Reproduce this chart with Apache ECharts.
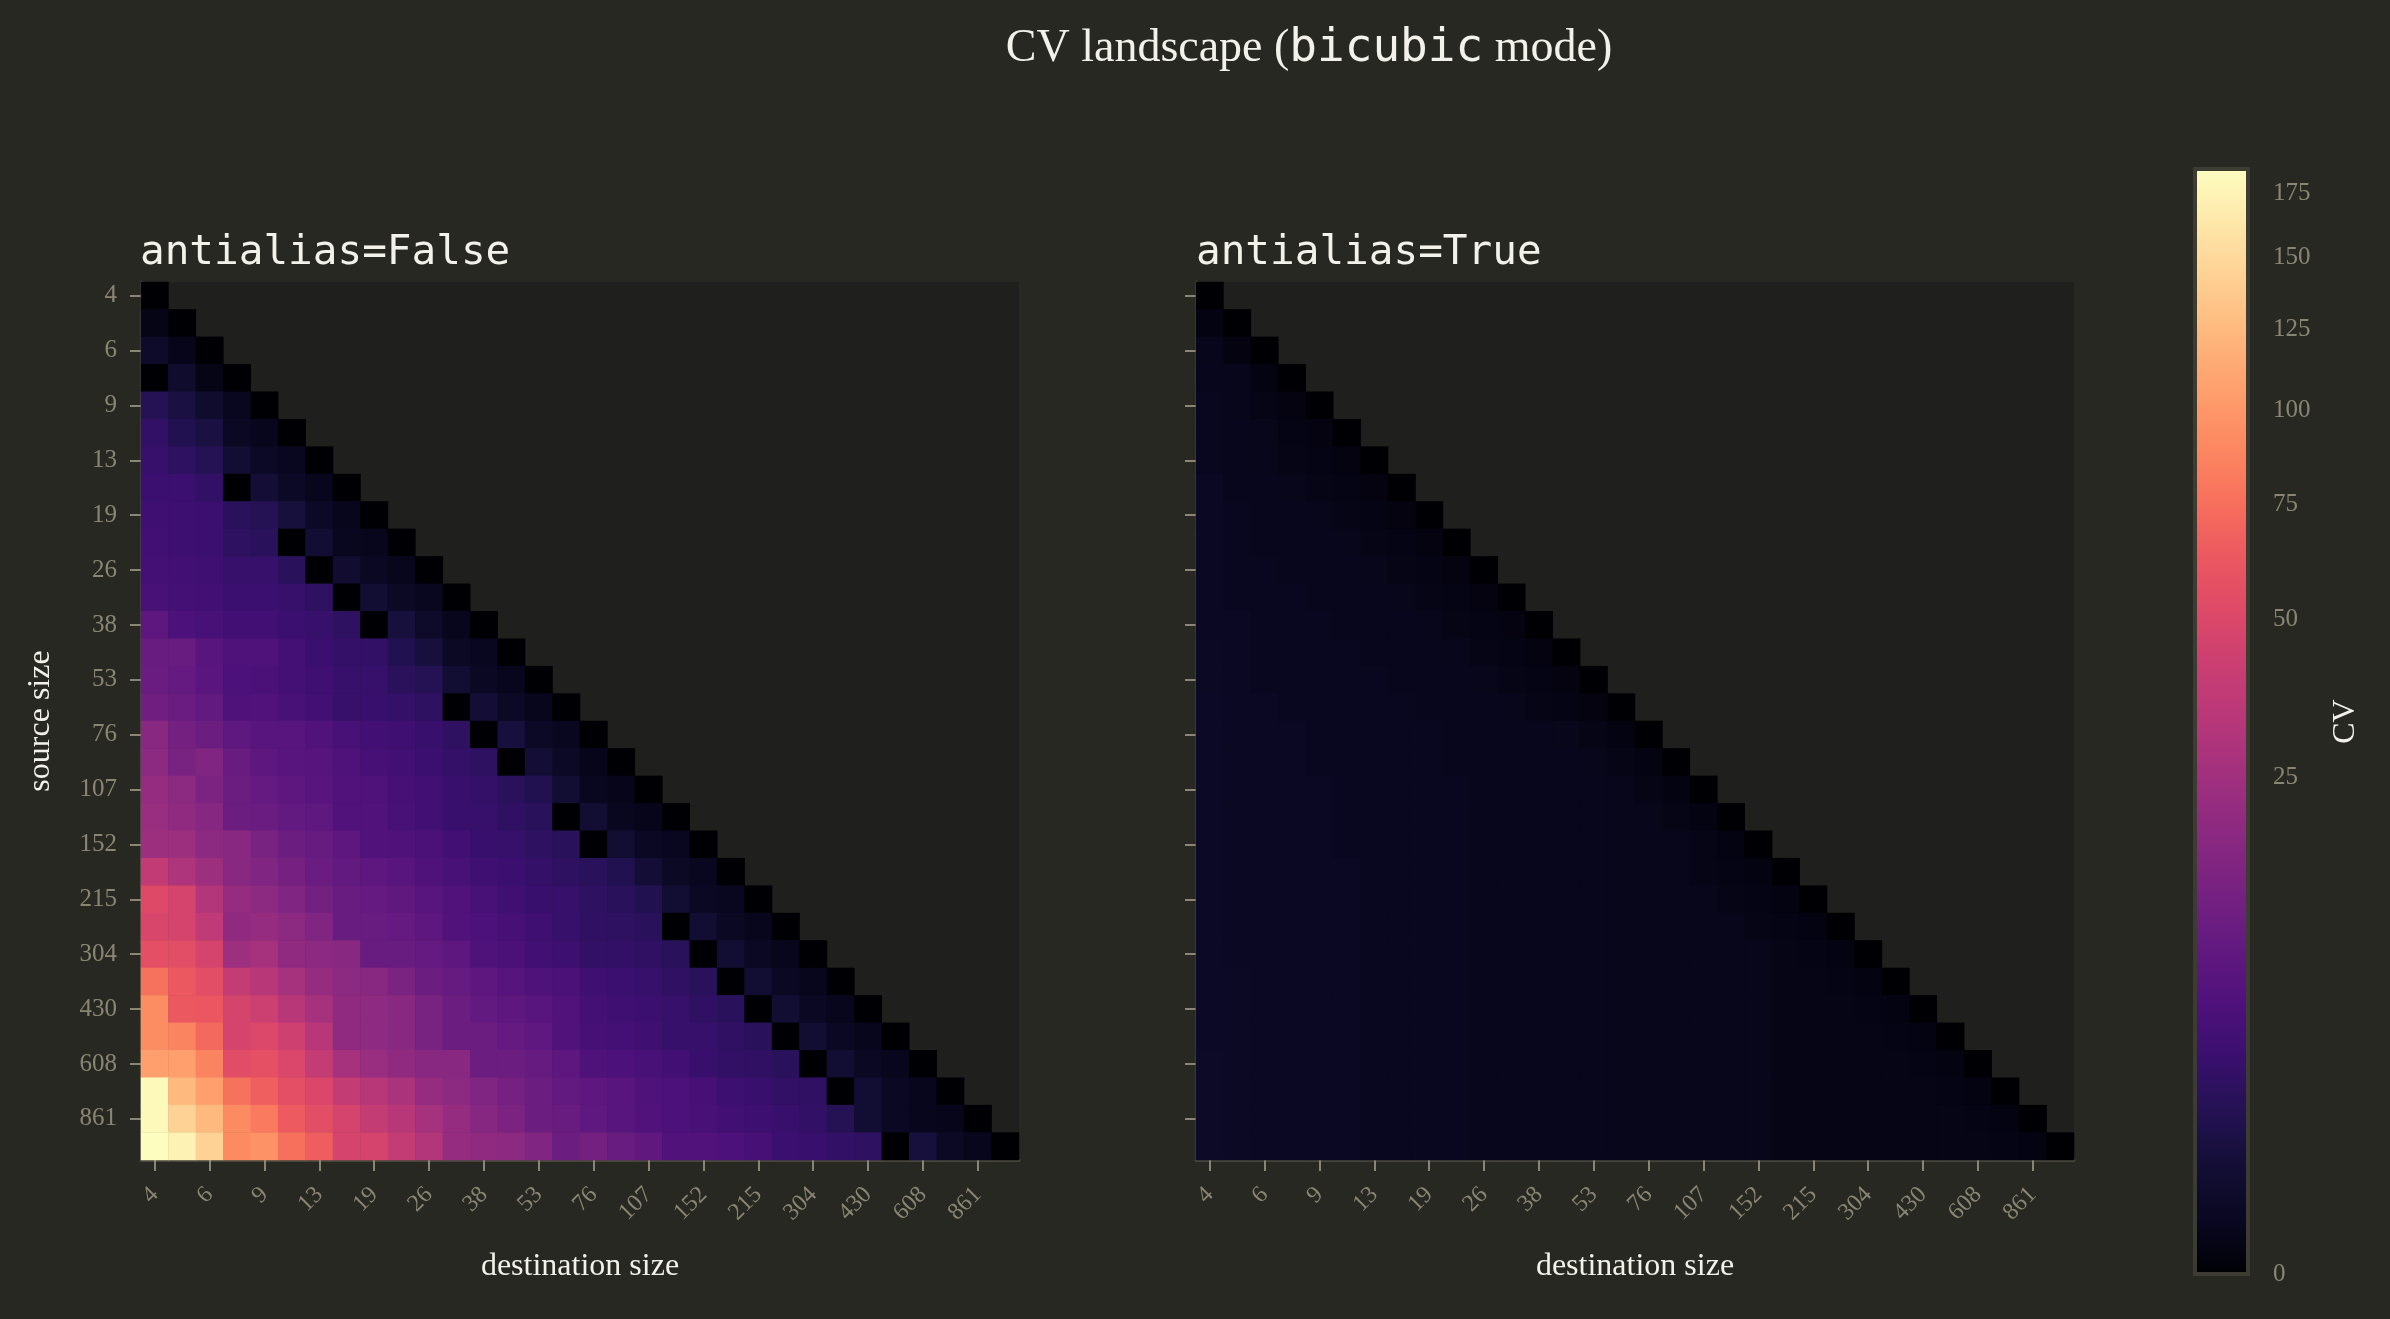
<!DOCTYPE html>
<html><head><meta charset="utf-8">
<script src="https://cdn.jsdelivr.net/npm/echarts@6/dist/echarts.min.js"></script>
<style>html,body{margin:0;padding:0;background:#272822;} #chart{width:2390px;height:1319px;}</style>
</head><body><div id="chart"></div>
<script>
// ---- data ----
const sizes = [4,5,6,8,9,11,13,16,19,22,26,32,38,45,53,64,76,90,107,128,152,181,215,256,304,362,430,512,608,724,861,1024];
const sizeLabels = sizes.map(String);
const cvMax = 185;
const normGamma = 0.4;
const colorbarTicks = [0,25,50,75,100,125,150,175];

// rows = source size index, columns = destination size index (lower triangle)
const cvAntialiasFalse = [
 [0],
 [0.03, 0],
 [0.24, 0.04, 0],
 [0, 0.33, 0.03, 0],
 [1.6, 0.9, 0.33, 0.08, 0],
 [2.5, 1.4, 0.9, 0.1, 0.06, 0],
 [2.9, 2.2, 1.6, 0.45, 0.16, 0.08, 0],
 [3.3, 3.3, 2.5, 0, 0.59, 0.16, 0.06, 0],
 [3.7, 3.5, 3.3, 1.9, 1.6, 0.74, 0.16, 0.06, 0],
 [4.0, 3.5, 3.3, 2.2, 1.9, 0, 0.45, 0.08, 0.06, 0],
 [4.2, 4.0, 3.7, 2.9, 2.9, 1.9, 0, 0.39, 0.1, 0.06, 0],
 [4.7, 4.2, 4.0, 3.3, 3.3, 2.9, 2.2, 0, 0.45, 0.13, 0.08, 0],
 [7.7, 5.2, 4.7, 4.0, 4.0, 3.3, 2.9, 2.2, 0, 0.74, 0.24, 0.06, 0],
 [9.9, 9.9, 7.0, 5.5, 5.5, 4.2, 3.3, 2.7, 2.5, 1.4, 0.74, 0.13, 0.08, 0],
 [10.3, 9.1, 7.3, 5.2, 5.0, 4.2, 3.7, 2.9, 2.9, 2.0, 1.6, 0.45, 0.1, 0.06, 0],
 [11.6, 10.3, 8.7, 5.5, 5.8, 4.7, 4.0, 2.9, 3.1, 2.7, 2.2, 0, 0.59, 0.16, 0.06, 0],
 [17.6, 12.5, 10.7, 8.0, 7.0, 7.0, 5.8, 4.7, 4.0, 3.7, 3.1, 2.2, 0, 0.74, 0.16, 0.08, 0],
 [18.7, 13.4, 15.4, 9.9, 7.7, 7.0, 6.7, 5.5, 4.4, 4.0, 3.3, 2.7, 2.2, 0, 0.59, 0.16, 0.04, 0],
 [21.2, 18.7, 14.4, 10.7, 9.1, 7.7, 7.0, 5.8, 5.5, 4.4, 4.0, 3.1, 2.7, 1.9, 1.4, 0.45, 0.08, 0.04, 0],
 [22.4, 19.9, 17.0, 10.7, 10.3, 8.7, 8.0, 5.8, 5.8, 4.7, 4.0, 3.1, 2.9, 2.4, 1.9, 0, 0.45, 0.08, 0.04, 0],
 [23.8, 23.8, 18.7, 17.6, 13.4, 10.7, 9.5, 7.7, 5.8, 5.5, 5.0, 4.0, 3.1, 2.9, 2.2, 1.9, 0, 0.45, 0.1, 0.08, 0],
 [37.8, 29.5, 23.8, 17.6, 15.4, 12.9, 10.3, 8.7, 7.7, 7.0, 5.5, 4.7, 3.7, 3.3, 2.7, 2.2, 1.9, 1.4, 0.59, 0.13, 0.08, 0],
 [51.6, 46.4, 31.1, 21.2, 18.7, 15.4, 12.5, 9.9, 9.1, 8.4, 7.0, 5.8, 4.7, 3.7, 3.1, 2.9, 2.2, 1.9, 1.4, 0.45, 0.1, 0.08, 0],
 [48.4, 46.4, 36.1, 19.9, 21.2, 18.7, 15.4, 9.9, 9.9, 9.1, 7.7, 5.8, 5.2, 4.4, 3.7, 2.9, 2.4, 2.2, 1.9, 0, 0.45, 0.1, 0.06, 0],
 [56.0, 54.9, 46.4, 23.8, 26.6, 19.9, 18.7, 17.6, 9.9, 9.9, 9.1, 7.7, 5.5, 5.0, 4.0, 3.5, 2.5, 2.5, 2.4, 1.9, 0, 0.45, 0.1, 0.06, 0],
 [77.2, 63.0, 54.9, 38.7, 32.7, 26.6, 21.2, 18.7, 17.6, 13.9, 10.7, 9.5, 7.7, 6.7, 5.5, 5.0, 3.7, 3.3, 2.9, 2.4, 1.9, 0, 0.45, 0.1, 0.06, 0],
 [93.1, 63.0, 61.8, 46.4, 42.5, 32.7, 26.6, 19.9, 19.3, 17.6, 13.4, 10.7, 8.7, 7.7, 7.0, 5.8, 4.2, 3.7, 3.3, 2.9, 2.4, 1.9, 0, 0.45, 0.1, 0.06, 0],
 [93.1, 87.2, 71.9, 46.4, 50.5, 43.4, 32.7, 19.9, 19.3, 17.6, 13.4, 10.7, 10.7, 9.1, 8.0, 5.8, 4.4, 4.2, 3.7, 2.9, 2.9, 2.4, 1.9, 0, 0.45, 0.1, 0.06, 0],
 [105.9, 105.9, 87.2, 53.8, 57.1, 49.5, 38.7, 26.6, 22.4, 19.9, 17.6, 17.6, 10.7, 10.7, 9.5, 7.7, 5.5, 5.2, 4.7, 4.0, 3.1, 2.5, 2.4, 1.9, 0, 0.45, 0.1, 0.06, 0],
 [180.4, 125, 105.9, 77.2, 66.7, 56.0, 49.5, 38.7, 32.7, 28.0, 21.2, 18.7, 15.4, 12.9, 10.7, 8.7, 7.7, 7.0, 5.5, 5.2, 4.4, 3.5, 3.1, 2.5, 2.4, 0, 0.45, 0.1, 0.06, 0],
 [180.4, 144, 125, 91.6, 81.4, 64.2, 54.9, 46.4, 38.7, 32.7, 26.6, 21.2, 17.0, 14.4, 10.7, 9.9, 8.0, 7.0, 5.8, 5.2, 4.7, 4.0, 3.5, 3.1, 2.5, 1.6, 0.45, 0.1, 0.06, 0.04, 0],
 [185, 173.6, 144, 91.6, 96.3, 75.8, 65.5, 46.4, 46.4, 38.7, 31.1, 21.2, 19.9, 18.7, 15.4, 10.7, 12.5, 9.9, 8.4, 5.8, 5.8, 5.2, 4.4, 3.3, 3.1, 2.5, 2.2, 0, 0.74, 0.13, 0.06, 0]
];

const cvAntialiasTrue = [
 [0],
 [0.012, 0],
 [0.045, 0.008, 0],
 [0.06, 0.045, 0.012, 0],
 [0.08, 0.045, 0.03, 0.008, 0],
 [0.08, 0.06, 0.045, 0.02, 0.008, 0],
 [0.08, 0.06, 0.045, 0.03, 0.02, 0.008, 0],
 [0.1, 0.06, 0.06, 0.045, 0.03, 0.02, 0.008, 0],
 [0.1, 0.08, 0.06, 0.06, 0.045, 0.03, 0.02, 0.008, 0],
 [0.1, 0.08, 0.06, 0.06, 0.06, 0.045, 0.03, 0.02, 0.008, 0],
 [0.12, 0.08, 0.08, 0.06, 0.06, 0.06, 0.045, 0.03, 0.02, 0.008, 0],
 [0.12, 0.08, 0.08, 0.08, 0.06, 0.06, 0.06, 0.045, 0.03, 0.02, 0.008, 0],
 [0.12, 0.1, 0.08, 0.08, 0.08, 0.06, 0.06, 0.06, 0.045, 0.03, 0.02, 0.008, 0],
 [0.13, 0.1, 0.08, 0.08, 0.08, 0.08, 0.06, 0.06, 0.06, 0.045, 0.03, 0.02, 0.008, 0],
 [0.13, 0.1, 0.08, 0.08, 0.08, 0.08, 0.08, 0.06, 0.06, 0.06, 0.045, 0.03, 0.02, 0.008, 0],
 [0.16, 0.1, 0.1, 0.08, 0.08, 0.08, 0.08, 0.08, 0.06, 0.06, 0.06, 0.045, 0.03, 0.02, 0.008, 0],
 [0.16, 0.12, 0.1, 0.1, 0.08, 0.08, 0.08, 0.08, 0.08, 0.06, 0.06, 0.06, 0.06, 0.045, 0.03, 0.012, 0],
 [0.16, 0.12, 0.1, 0.1, 0.08, 0.08, 0.08, 0.08, 0.08, 0.06, 0.06, 0.06, 0.06, 0.06, 0.045, 0.03, 0.012, 0],
 [0.16, 0.12, 0.1, 0.1, 0.1, 0.08, 0.08, 0.08, 0.08, 0.08, 0.06, 0.06, 0.06, 0.06, 0.06, 0.045, 0.03, 0.012, 0],
 [0.16, 0.12, 0.1, 0.1, 0.1, 0.08, 0.08, 0.08, 0.08, 0.08, 0.06, 0.06, 0.06, 0.06, 0.06, 0.045, 0.045, 0.03, 0.012, 0],
 [0.18, 0.12, 0.1, 0.1, 0.1, 0.08, 0.08, 0.08, 0.08, 0.08, 0.06, 0.06, 0.06, 0.06, 0.06, 0.045, 0.045, 0.045, 0.03, 0.012, 0],
 [0.18, 0.12, 0.1, 0.1, 0.1, 0.1, 0.08, 0.08, 0.08, 0.08, 0.06, 0.06, 0.06, 0.06, 0.06, 0.045, 0.045, 0.045, 0.03, 0.02, 0.012, 0],
 [0.18, 0.12, 0.1, 0.1, 0.1, 0.1, 0.08, 0.08, 0.08, 0.08, 0.06, 0.06, 0.06, 0.06, 0.06, 0.045, 0.045, 0.045, 0.045, 0.03, 0.02, 0.012, 0],
 [0.18, 0.12, 0.1, 0.1, 0.1, 0.1, 0.08, 0.08, 0.08, 0.08, 0.06, 0.06, 0.06, 0.06, 0.06, 0.045, 0.045, 0.045, 0.045, 0.045, 0.03, 0.02, 0.012, 0],
 [0.18, 0.12, 0.1, 0.1, 0.1, 0.1, 0.08, 0.08, 0.08, 0.08, 0.06, 0.06, 0.06, 0.06, 0.06, 0.045, 0.045, 0.045, 0.045, 0.045, 0.045, 0.03, 0.02, 0.012, 0],
 [0.18, 0.13, 0.1, 0.1, 0.1, 0.1, 0.08, 0.08, 0.08, 0.08, 0.06, 0.06, 0.06, 0.06, 0.06, 0.045, 0.045, 0.045, 0.045, 0.045, 0.045, 0.03, 0.03, 0.02, 0.012, 0],
 [0.18, 0.13, 0.1, 0.1, 0.1, 0.1, 0.08, 0.08, 0.08, 0.08, 0.06, 0.06, 0.06, 0.06, 0.06, 0.045, 0.045, 0.045, 0.045, 0.045, 0.045, 0.03, 0.03, 0.03, 0.02, 0.012, 0],
 [0.18, 0.13, 0.1, 0.1, 0.1, 0.1, 0.08, 0.08, 0.08, 0.08, 0.06, 0.06, 0.06, 0.06, 0.06, 0.045, 0.045, 0.045, 0.045, 0.045, 0.045, 0.03, 0.03, 0.03, 0.03, 0.02, 0.012, 0],
 [0.2, 0.13, 0.1, 0.1, 0.1, 0.1, 0.08, 0.08, 0.08, 0.08, 0.06, 0.06, 0.06, 0.06, 0.06, 0.045, 0.045, 0.045, 0.045, 0.045, 0.045, 0.03, 0.03, 0.03, 0.03, 0.03, 0.02, 0.012, 0],
 [0.2, 0.13, 0.1, 0.1, 0.1, 0.1, 0.08, 0.08, 0.08, 0.08, 0.06, 0.06, 0.06, 0.06, 0.06, 0.045, 0.045, 0.045, 0.045, 0.045, 0.045, 0.03, 0.03, 0.03, 0.03, 0.03, 0.03, 0.02, 0.012, 0],
 [0.2, 0.13, 0.1, 0.1, 0.1, 0.1, 0.08, 0.08, 0.08, 0.08, 0.06, 0.06, 0.06, 0.06, 0.06, 0.045, 0.045, 0.045, 0.045, 0.045, 0.045, 0.03, 0.03, 0.03, 0.03, 0.03, 0.03, 0.03, 0.02, 0.012, 0],
 [0.2, 0.13, 0.1, 0.1, 0.1, 0.1, 0.08, 0.08, 0.08, 0.08, 0.06, 0.06, 0.06, 0.06, 0.06, 0.045, 0.045, 0.045, 0.045, 0.045, 0.045, 0.03, 0.03, 0.03, 0.03, 0.03, 0.03, 0.03, 0.03, 0.02, 0.012, 0]
];

// magma colormap stops (0 .. 1 in steps of 0.05)
const magma = ['#000004','#0a0822','#140e36','#251255','#3b0f70','#51127c','#641a80','#782281','#8c2981','#a1307e',
  '#b73779','#ca3e72','#de4968','#ec5860','#f7705c','#fc8961','#fe9f6d','#feb77d','#fecf92','#fde7a9','#fcfdbf'];

// ---- helpers ----
function norm(v) { return Math.pow(v / cvMax, normGamma); }      // PowerNorm(gamma=0.4)
function toCells(rows) {
  const out = [];
  rows.forEach((row, i) => row.forEach((v, j) => out.push([j, i, v, norm(v)])));
  return out;
}

const serif = "'Liberation Serif', 'DejaVu Serif', serif";
const mono = "'DejaVu Sans Mono', 'Liberation Mono', monospace";
const tickColor = '#8a8673';
const spineColor = '#47473c';
const textColor = '#f2f2ea';
const panelBg = '#1f1f1d';

function xAxisFor(g) {
  return {
    type: 'category', gridIndex: g, data: sizeLabels, position: 'bottom',
    axisLine: { show: true, lineStyle: { color: spineColor, width: 3 } },
    axisTick: { show: true, interval: 1, alignWithLabel: true, length: 11, lineStyle: { color: tickColor, width: 2 } },
    axisLabel: { show: true, interval: 1, rotate: 45, margin: 31, color: tickColor, fontFamily: serif, fontSize: 24 },
    splitLine: { show: false }, splitArea: { show: false },
    name: 'destination size', nameLocation: 'middle', nameGap: 91,
    nameTextStyle: { color: textColor, fontFamily: serif, fontSize: 32 }
  };
}
function yAxisFor(g, showLabels, name) {
  return {
    type: 'category', gridIndex: g, data: sizeLabels, inverse: true, position: 'left',
    axisLine: { show: true, lineStyle: { color: spineColor, width: 3 } },
    axisTick: { show: true, interval: 1, alignWithLabel: true, length: 11, lineStyle: { color: tickColor, width: 2 } },
    axisLabel: { show: showLabels, interval: 1, margin: 24, color: tickColor, fontFamily: serif, fontSize: 25 },
    splitLine: { show: false }, splitArea: { show: false },
    name: name, nameLocation: 'middle', nameGap: 84, nameRotate: 90,
    nameTextStyle: { color: textColor, fontFamily: serif, fontSize: 32 }
  };
}

const chart = echarts.init(document.getElementById('chart'), null, { renderer: 'canvas', width: 2390, height: 1319 });
chart.setOption({
  backgroundColor: '#272822',
  animation: false,
  title: [
    { text: '{s|CV landscape (}{m|bicubic}{s| mode)}', left: 1309, top: 26, textAlign: 'center', padding: 0,
      textStyle: { fontWeight: 'normal', rich: {
        s: { fontFamily: serif, fontSize: 46, color: textColor, fontWeight: 'normal' },
        m: { fontFamily: mono, fontSize: 46, color: textColor, fontWeight: 'normal' } } } },
    { text: 'antialias=False', left: 140, top: 233, padding: 0,
      textStyle: { fontFamily: mono, fontSize: 41, fontWeight: 'normal', color: textColor } },
    { text: 'antialias=True', left: 1196, top: 233, padding: 0,
      textStyle: { fontFamily: mono, fontSize: 41, fontWeight: 'normal', color: textColor } }
  ],
  grid: [
    { left: 141, top: 282, width: 878, height: 878, show: true, backgroundColor: panelBg, borderWidth: 0 },
    { left: 1196, top: 282, width: 878, height: 878, show: true, backgroundColor: panelBg, borderWidth: 0 },
    { left: 2195, top: 169, width: 53, height: 1105, show: true, backgroundColor: 'transparent',
      borderColor: '#3c3c33', borderWidth: 4, z: 10 }
  ],
  xAxis: [
    xAxisFor(0), xAxisFor(1),
    { type: 'value', gridIndex: 2, min: 0, max: 1, show: false }
  ],
  yAxis: [
    yAxisFor(0, true, 'source size'), yAxisFor(1, false, ''),
    { type: 'value', gridIndex: 2, min: 0, max: 1, position: 'right',
      axisLine: { show: false }, splitLine: { show: false },
      axisTick: { show: true, customValues: colorbarTicks.map(norm), length: 11, lineStyle: { color: tickColor, width: 2 } },
      axisLabel: { show: true, customValues: colorbarTicks.map(norm), margin: 25, color: tickColor, fontFamily: serif, fontSize: 25,
        formatter: (t) => String(Math.round(cvMax * Math.pow(t, 1 / normGamma))) },
      name: 'CV', nameLocation: 'middle', nameGap: 82, nameRotate: 90,
      nameTextStyle: { color: textColor, fontFamily: serif, fontSize: 32 } }
  ],
  visualMap: {
    type: 'continuous', show: true, min: 0, max: 1, dimension: 3, seriesIndex: [0, 1],
    calculable: false, hoverLink: false, orient: 'vertical', left: 2195, top: 169,
    itemWidth: 53, itemHeight: 1105, padding: 0, text: null, inRange: { color: magma }
  },
  series: [
    { type: 'heatmap', xAxisIndex: 0, yAxisIndex: 0, data: toCells(cvAntialiasFalse),
      itemStyle: { borderWidth: 0 }, emphasis: { disabled: true }, progressive: 0 },
    { type: 'heatmap', xAxisIndex: 1, yAxisIndex: 1, data: toCells(cvAntialiasTrue),
      itemStyle: { borderWidth: 0 }, emphasis: { disabled: true }, progressive: 0 }
  ]
});
</script>
</body></html>
